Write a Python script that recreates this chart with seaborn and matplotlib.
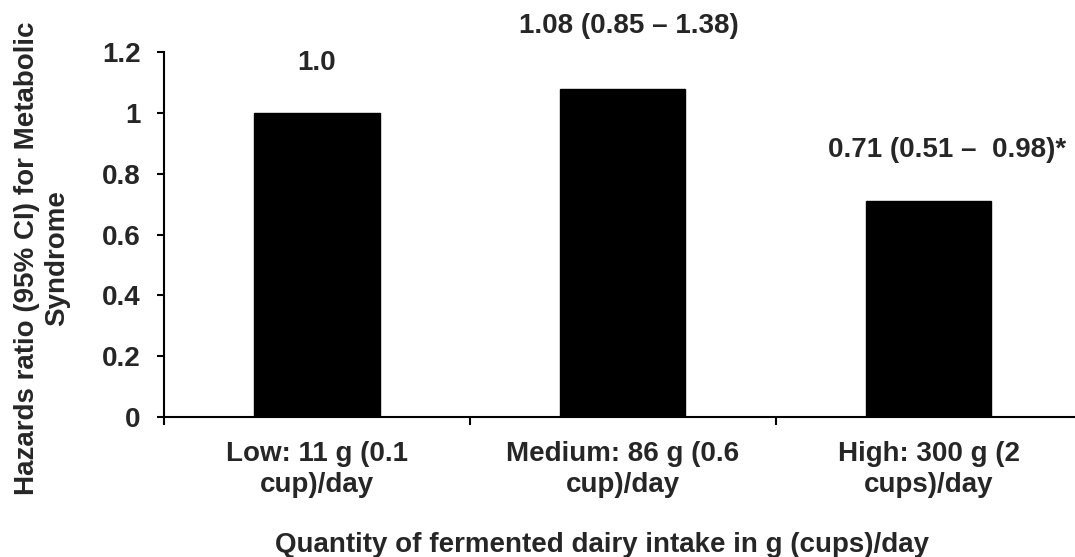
import matplotlib
matplotlib.use("Agg")
import matplotlib.pyplot as plt
import seaborn as sns
import pandas as pd

# Fermented dairy intake groups and hazard ratios for metabolic syndrome
categories = ["Low: 11 g (0.1\ncup)/day", "Medium: 86 g (0.6\ncup)/day", "High: 300 g (2\ncups)/day"]
hazard_ratios = [1.0, 1.08, 0.71]
annotations = ["1.0", "1.08 (0.85 \u2013 1.38)", "0.71 (0.51 \u2013  0.98)*"]
yticks = [0, 0.2, 0.4, 0.6, 0.8, 1.0, 1.2]
ytick_labels = ["0", "0.2", "0.4", "0.6", "0.8", "1", "1.2"]

# Placement of the value labels (x shift, baseline height in data units)
LABEL_POS = [(0.0, 1.141), (0.02, 1.262), (0.06, 0.855)]

FS = 20

sns.set_theme(style="white")
plt.rcParams["font.family"] = ["Liberation Sans", "DejaVu Sans"]
plt.rcParams["font.weight"] = "bold"

df = pd.DataFrame({"group": categories, "hr": hazard_ratios})

fig, ax = plt.subplots(figsize=(10.75, 5.57), dpi=100)
fig.subplots_adjust(left=0.1526, right=1.006, top=0.9066, bottom=0.2513)

sns.barplot(data=df, x="group", y="hr", color="black", width=0.41,
            saturation=1, ax=ax, edgecolor="black")

for i, (txt, (dx, y)) in enumerate(zip(annotations, LABEL_POS)):
    ax.text(i + dx, y, txt, ha="center", va="baseline", fontsize=FS,
            fontweight="bold", clip_on=False)

ax.set_ylim(0, 1.2)
ax.set_xlim(-0.5, 2.5)
ax.set_yticks(yticks)
ax.set_yticklabels(ytick_labels, fontsize=FS, fontweight="bold")

# Category ticks sit on the boundaries between groups
ax.set_xticks([-0.5, 0.5, 1.5, 2.5])
ax.set_xticklabels([])
ax.set_xticks([0, 1, 2], minor=True)
ax.set_xticklabels(categories, minor=True, fontsize=FS, fontweight="bold",
                   linespacing=1.25)
ax.tick_params(axis="x", which="minor", length=0, pad=17)
ax.tick_params(axis="x", which="major", direction="out", length=6, width=1.5,
               color="black", bottom=True)
ax.tick_params(axis="y", direction="out", length=5, width=1.5, color="black",
               left=True, pad=12)

for s in ["top", "right"]:
    ax.spines[s].set_visible(False)
for s in ["left", "bottom"]:
    ax.spines[s].set_color("black")
    ax.spines[s].set_linewidth(1.5)

ax.set_xlabel("Quantity of fermented dairy intake in g (cups)/day",
              fontsize=FS, fontweight="bold")
ax.xaxis.set_label_coords(0.477, -0.315)
ax.set_ylabel("Hazards ratio (95% CI) for Metabolic\nSyndrome",
              fontsize=FS, fontweight="bold", linespacing=1.22)
ax.yaxis.set_label_coords(-0.102, 0.436)

fig.savefig("out.png", dpi=100, facecolor="white")
